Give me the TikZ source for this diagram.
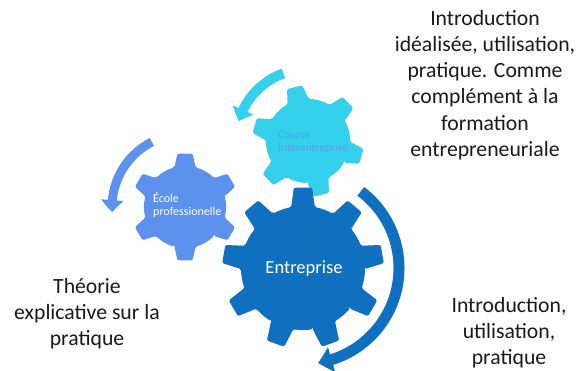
\documentclass[tikz,border=0pt]{standalone}
\usepackage{fontspec}
\setmainfont{Carlito}
\usetikzlibrary{arrows.meta,bending}
\definecolor{bigblue}{RGB}{16,112,192}
\definecolor{gcyan}{RGB}{52,208,236}
\definecolor{gcorn}{RGB}{92,146,238}
\definecolor{ctext}{RGB}{86,160,234}
\definecolor{txt}{RGB}{25,25,25}
% #1 center name, #2 teeth, #3 rin, #4 rout, #5 phase, #6 colour, #7 half base angle, #8 half tip angle
\newcommand\mygear[8]{%
  \fill[#6, shift={(#1)}, rotate=#5, rounded corners=1.5pt]
    (-#7:#3pt)
    \foreach \i [evaluate=\i as \a using \i*360/#2,
                 evaluate=\i as \b using (\i+1)*360/#2] in {0,...,\numexpr#2-1\relax} {
      -- (\a-#7:#3pt) -- (\a-#8:#4pt) -- (\a+#8:#4pt) -- (\a+#7:#3pt)
      arc[start angle=\a+#7, end angle=\b-#7, radius=#3pt]
    } -- cycle;}
\begin{document}
\begin{tikzpicture}[x=1pt,y=1pt,
  bigtext/.style={font=\fontsize{21.7}{26.2}\selectfont, text=txt, align=center, inner sep=0pt},
  geartext/.style={inner sep=0pt, align=left}]
\useasboundingbox (0,0) rectangle (583,370);
\coordinate (cc) at (308,229);
\coordinate (ec) at (185,163);
\coordinate (bc) at (303,102);
% gears
\mygear{cc}{6}{42}{56}{104}{gcyan}{15}{8}
\mygear{ec}{6}{41}{54}{90}{gcorn}{15}{8}
\mygear{bc}{9}{62}{81}{90}{bigblue}{11}{6.5}
% arrows
\draw[gcyan, line width=10pt, -{Triangle[width=22pt,length=12pt,bend]}]
  ([shift={(110:72pt)}]cc) arc[start angle=110, end angle=164, radius=72pt];
\draw[gcorn, line width=9pt, -{Triangle[width=22pt,length=12pt,bend]}]
  ([shift={(117:73pt)}]ec) arc[start angle=117, end angle=184, radius=73pt];
\draw[bigblue, line width=11pt, -{Triangle[width=25pt,length=14pt,bend]}]
  ([shift={(53:96pt)}]bc) arc[start angle=53, end angle=-81, radius=96pt];
% gear labels
\node[geartext, anchor=west, text=ctext, font=\fontsize{11.5}{13}\selectfont] (lc) at (278,227.5) {Course\\interentreprise};
\node[geartext, anchor=west, text=white, font=\fontsize{12}{13}\selectfont] (le) at (153,165.5) {École\\professionelle};
\node[inner sep=0pt, text=white, font=\fontsize{18.5}{22}\selectfont] (lb) at (304,101) {Entreprise};
% side texts
\node[bigtext, anchor=north] (t1) at (485,360) {Introduction\\idéalisée, utilisation,\\pratique. Comme\\complément à la\\formation\\entrepreneuriale};
\node[bigtext, anchor=north] (t2) at (87,92) {Théorie\\explicative sur la\\pratique};
\node[bigtext, anchor=north] (t3) at (509,73) {Introduction,\\utilisation,\\pratique};
\end{tikzpicture}
\end{document}
